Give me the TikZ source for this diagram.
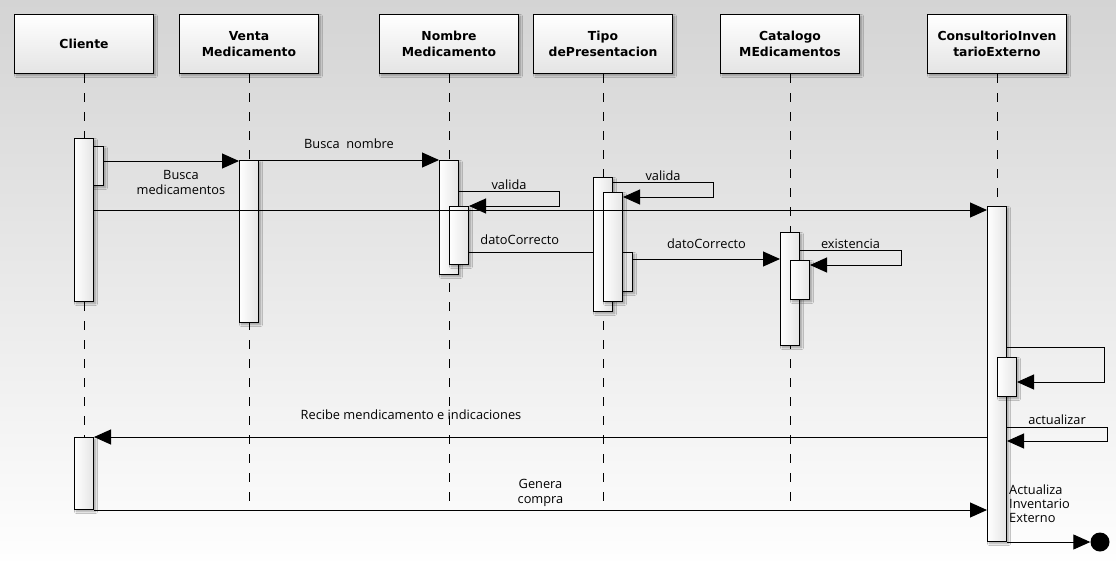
\documentclass[tikz,border=0pt]{standalone}
\usepackage{fontspec}
\setmainfont{Open Sans}
\newfontfamily\hdrfont{DejaVu Sans}
\usepackage{tikz}
\usetikzlibrary{arrows.meta,shadows.blur}
\definecolor{bgtop}{HTML}{D4D4D4}
\definecolor{bgbot}{HTML}{FEFEFE}
\definecolor{boxlow}{HTML}{E4E4E4}
\definecolor{ink}{HTML}{000000}
\tikzset{
  shade/.style={blur shadow={shadow xshift=2pt,shadow yshift=-2pt,shadow blur radius=2pt,shadow blur steps=6,shadow opacity=35}},
  actor/.style={draw=ink, line width=1pt, top color=white, bottom color=boxlow, shade,
    minimum width=139pt, minimum height=59pt, inner sep=0pt, align=center,
    font=\hdrfont\bfseries\fontsize{12.4}{16}\selectfont},
  act/.style={draw=ink, line width=1pt, left color=white, right color=boxlow, shade,
    minimum width=19pt, inner sep=0pt},
  lifeline/.style={draw=ink, line width=1pt, dash pattern=on 9pt off 10pt},
  msg/.style={draw=ink, line width=1pt, -{Triangle[length=17pt,width=15pt]}},
  plainmsg/.style={draw=ink, line width=1pt},
  lab/.style={text=ink, font=\fontsize{12.8}{15}\selectfont, inner sep=0pt, align=center},
  fin/.style={circle, fill=ink, minimum size=19pt, inner sep=0pt},
}

\begin{document}
\begin{tikzpicture}[x=1pt,y=-1pt]
  \useasboundingbox (0,0) rectangle (1116,560);
  \fill[top color=bgtop, bottom color=bgbot] (0,0) rectangle (1116,560);
  \coordinate (bot) at (0,504);

  \foreach \n/\x/\t in {cli/84/{Cliente}, ven/249/{Venta\\Medicamento}, nom/449/{Nombre\\Medicamento},
      tip/603/{Tipo\\dePresentacion}, cat/790/{Catalogo\\MEdicamentos}, con/997/{ConsultorioInven\\tarioExterno}}{
    \node[actor] (\n) at (\x,44) {\t};
    \draw[lifeline] (\n.south) -- (\n.south |- bot);
  }

  \foreach \n/\x/\ya/\yb in {cliB/94/146/186, cliA/84/138/302, cliC/84/437/510, venA/249/160/323,
      nomA/449/160/275, nomB/459/206/265, tipA/603/177/312, tipC/623/252/292, tipB/613/192/302,
      catA/790/232/346, catB/800/260/300, conA/997/206/542, conB/1007/357/397}{
    \node[act, minimum height={\yb-\ya-1}] (\n) at (\x,{(\ya+\yb)/2}) {};
  }

  \foreach \r/\y in {r1/161, r2/160, r3/191, r4/206, r5/210, r6/252, r7/182, r8/197, r9/259,
      r10/250, r11/265, r12/347, r13/382, r14/427, r15/441, r16/437, r17/510}{
    \coordinate (\r) at (0,\y);
  }

  \draw[msg] (cliB.east |- r1) -- node[lab,below=9pt,pos=.57] {Busca\\medicamentos} (venA.west |- r1);
  \draw[msg] (venA.east |- r2) -- node[lab,above=11pt] {Busca\ \ nombre} (nomA.west |- r2);
  \draw[msg] (nomA.east |- r3) -- node[lab,above=1pt] {valida} ++(100,0) |- (nomB.east |- r4);
  \draw[msg] (cliA.east |- r5) -- (conA.west |- r5);
  \draw[plainmsg] (nomB.east |- r6) -- node[lab,above=7pt,pos=.41] {datoCorrecto} (tipA.west |- r6);
  \draw[msg] (tipA.east |- r7) -- node[lab,above=1pt] {valida} ++(100,0) |- (tipB.east |- r8);
  \draw[msg] (tipC.east |- r9) -- node[lab,above=10pt] {datoCorrecto} (catA.west |- r9);
  \draw[msg] (catA.east |- r10) -- node[lab,above=1pt] {existencia} ++(101,0) |- (catB.east |- r11);
  \draw[msg] (conA.east |- r12) -- ++(97,0) |- (conB.east |- r13);
  \draw[msg] (conA.east |- r14) -- node[lab,above=2pt] {actualizar} ++(100,0) |- (conA.east |- r15);
  \draw[msg] (conA.west |- r16) -- node[lab,above=17pt,pos=.645] {Recibe mendicamento e indicaciones} (cliC.east |- r16);
  \draw[msg] (cliC.east |- r17) -- node[lab,above=3pt] {Genera\\compra} (conA.west |- r17);

  \node[lab, anchor=north west, align=left, font=\fontsize{12.8}{14}\selectfont] (actTxt) at (1009,485) {Actualiza\\Inventario\\Externo};
  \node[fin] (end) at (1100,542) {};
  \draw[msg] (conA.south east) -- (end.west);
\end{tikzpicture}
\end{document}
